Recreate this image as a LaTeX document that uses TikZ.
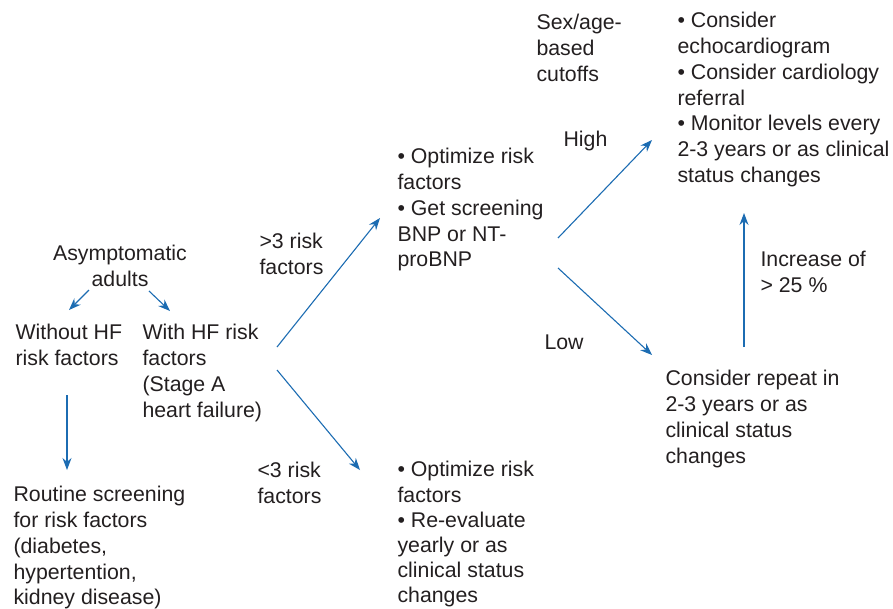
\documentclass[tikz,border=0pt]{standalone}
\usepackage{fontspec}
\setmainfont{Liberation Sans}
\usetikzlibrary{arrows.meta}
\definecolor{flowblue}{RGB}{28,108,178}
\definecolor{inkgray}{RGB}{35,31,32}

\begin{document}
\begin{tikzpicture}[x=1pt, y=-1pt, line width=1.1pt,
    txt/.style={anchor=north west, inner sep=0pt, align=left, text=inkgray,
      font=\fontsize{21.3}{25.7}\selectfont},
    arr/.style={flowblue, -{Stealth[length=12pt, width=9pt]}}]
            \useasboundingbox (0,0) rectangle (893,608);

            % Start
            \node[txt, anchor=north, align=center] (asym) at (120,245) {Asymptomatic\\adults};
            \node[txt] (without) at (15,324) {Without HF\\risk factors};
            \node[txt] (withhf) at (142,324) {With HF risk\\factors\\(Stage A\\heart failure)};
            \node[txt] (routine) at (13,486) {Routine screening\\for risk factors\\(diabetes,\\hypertention,\\kidney disease)};

            % Risk factor count
            \node[txt] (more) at (259,233) {>3 risk\\factors};
            \node[txt] (fewer) at (257,462) {<3 risk\\factors};
            \node[txt] (screen) at (397,148) {• Optimize risk\\factors\\• Get screening\\BNP or NT-\\proBNP};
            \node[txt, font=\fontsize{21.3}{25.2}\selectfont] (reeval) at (397,461) {• Optimize risk\\factors\\• Re-evaluate\\yearly or as\\clinical status\\changes};

            % BNP result
            \node[txt] (cutoffs) at (536,14) {Sex/age-\\based\\cutoffs};
            \node[txt] (high) at (563,131) {High};
            \node[txt] (low) at (544,334) {Low};
            \node[txt] (consider) at (677,12) {• Consider\\echocardiogram\\• Consider cardiology\\referral\\• Monitor levels every\\2-3 years or as clinical\\status changes};
            \node[txt] (increase) at (760,251) {Increase of\\> 25 \%};
            \node[txt] (repeat) at (665,370) {Consider repeat in\\2-3 years or as\\clinical status\\changes};

            % Arrow ends
            \coordinate (asymL) at (89,290);
            \coordinate (asymR) at (149,291);
            \coordinate (withoutT) at (69,310);
            \coordinate (withhfT) at (170,311);
            \coordinate (withoutB) at (67,395);
            \coordinate (routineT) at (67,470);
            \coordinate (splitU) at (277,347);
            \coordinate (splitD) at (277,370);
            \coordinate (screenL) at (380,218);
            \coordinate (reevalL) at (360,470);
            \coordinate (bnpU) at (558,238);
            \coordinate (bnpD) at (558,268);
            \coordinate (considerL) at (652,140);
            \coordinate (repeatL) at (652,355);
            \coordinate (repeatT) at (744,347);
            \coordinate (considerB) at (744,213);

            % Arrows
            \draw[arr] (asymL) -- (withoutT);
            \draw[arr] (asymR) -- (withhfT);
            \draw[arr] (withoutB) -- (routineT);
            \draw[arr] (splitU) -- (screenL);
            \draw[arr] (splitD) -- (reevalL);
            \draw[arr] (bnpU) -- (considerL);
            \draw[arr] (bnpD) -- (repeatL);
            \draw[arr] (repeatT) -- (considerB);
        \end{tikzpicture}
\end{document}
